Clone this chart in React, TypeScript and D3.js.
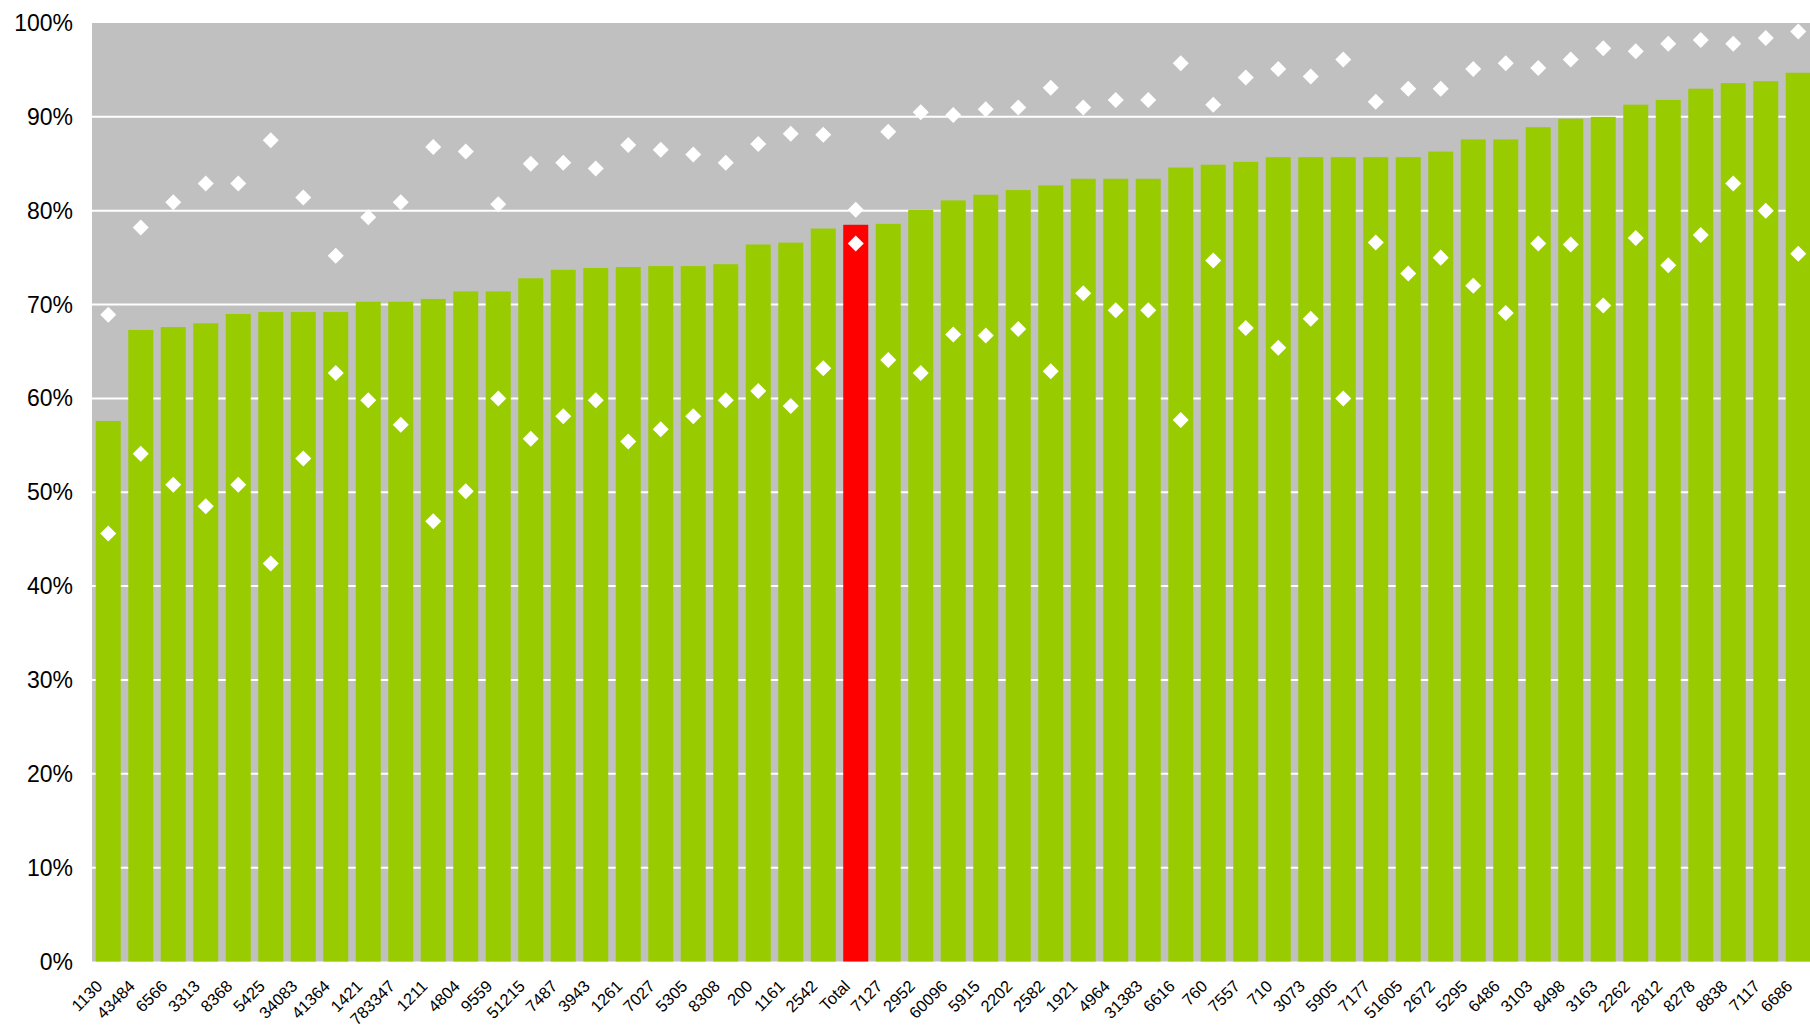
import React from "react";
import * as d3 from "d3";

const categories = ["1130","43484","6566","3313","8368","5425","34083","41364","1421","783347","1211","4804","9559","51215","7487","3943","1261","7027","5305","8308","200","1161","2542","Total","7127","2952","60096","5915","2202","2582","1921","4964","31383","6616","760","7557","710","3073","5905","7177","51605","2672","5295","6486","3103","8498","3163","2262","2812","8278","8838","7117","6686"];

const barValues = [57.6,67.3,67.6,68.0,69.0,69.2,69.2,69.2,70.3,70.3,70.6,71.4,71.4,72.8,73.7,73.9,74.0,74.1,74.1,74.3,76.4,76.6,78.1,78.5,78.6,80.1,81.1,81.7,82.2,82.7,83.4,83.4,83.4,84.6,84.9,85.2,85.7,85.7,85.7,85.7,85.7,86.3,87.6,87.6,88.9,89.8,90.0,91.3,91.8,93.0,93.6,93.8,94.7];

const upperValues = [68.9,78.2,80.9,82.9,82.9,87.5,81.4,75.2,79.3,80.9,86.8,86.3,80.7,85.0,85.1,84.5,87.0,86.5,86.0,85.1,87.1,88.2,88.1,80.1,88.4,90.5,90.2,90.8,91.0,93.1,91.0,91.8,91.8,95.7,91.3,94.2,95.1,94.3,96.1,91.6,93.0,93.0,95.1,95.7,95.2,96.1,97.3,97.0,97.8,98.2,97.8,98.4,99.1];

const lowerValues = [45.6,54.1,50.8,48.5,50.8,42.4,53.6,62.7,59.8,57.2,46.9,50.1,60.0,55.7,58.1,59.8,55.4,56.7,58.1,59.8,60.8,59.2,63.2,76.5,64.1,62.7,66.8,66.7,67.4,62.9,71.2,69.4,69.4,57.7,74.7,67.5,65.4,68.5,60.0,76.6,73.3,75.0,72.0,69.1,76.5,76.4,69.9,77.1,74.2,77.4,82.9,80.0,75.4];

const yTicks = [0,10,20,30,40,50,60,70,80,90,100];
const highlight = "Total";

export default function App() {
  const W = 1810, H = 1031;
  const left = 92, top = 23, bottom = 961.5;
  const x = d3.scaleBand<string>().domain(categories).range([left, left + categories.length * 32.5]).paddingInner(0.23).paddingOuter(0.115);
  const y = d3.scaleLinear().domain([0, 100]).range([bottom, top]);
  const diamond = d3.symbol().type(d3.symbolSquare).size(128)()!;
  const font = "'Liberation Sans', Arial, sans-serif";
  const cx = (c: string) => (x(c) ?? 0) + x.bandwidth() / 2;
  return (
    <svg width={W} height={H} style={{ position: "absolute", left: 0, top: 0, background: "#fff" }}>
      <rect x={left} y={top} width={W - left} height={bottom - top} fill="#C0C0C0" />
      {yTicks.filter(t => t > 0 && t < 100).map(t => (
        <line key={t} x1={left} x2={W} y1={y(t)} y2={y(t)} stroke="#fff" strokeWidth={2} />
      ))}
      {categories.map((c, i) => (
        <rect key={c + i} x={x(c)} y={y(barValues[i])} width={x.bandwidth()} height={bottom - y(barValues[i])} fill={c === highlight ? "#FF0000" : "#99CC00"} />
      ))}
      {categories.map((c, i) => (
        <path key={"u" + i} d={diamond} transform={`translate(${cx(c)},${y(upperValues[i])}) rotate(45)`} fill="#fff" />
      ))}
      {categories.map((c, i) => (
        <path key={"l" + i} d={diamond} transform={`translate(${cx(c)},${y(lowerValues[i])}) rotate(45)`} fill="#fff" />
      ))}
      {yTicks.map(t => (
        <text key={"yt" + t} x={73} y={y(t)} dy="0.35em" textAnchor="end" fontFamily={font} fontSize={23} fill="#000">{t}%</text>
      ))}
      {categories.map((c, i) => (
        <text key={"xt" + i} transform={`translate(${cx(c) - 13},${979}) rotate(-45)`} dy="0.71em" textAnchor="end" fontFamily={font} fontSize={16.5} fill="#000">{c}</text>
      ))}
    </svg>
  );
}
